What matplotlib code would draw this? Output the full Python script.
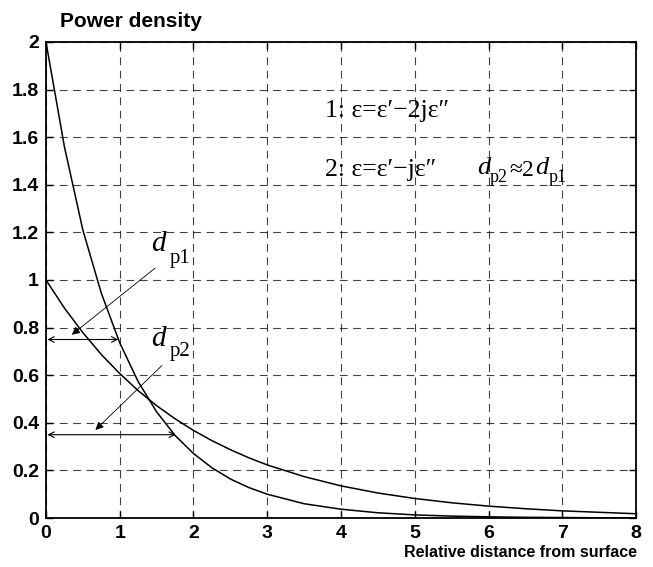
import matplotlib.pyplot as plt

# distances
dist = [0, 0.25, 0.5, 0.75, 1, 1.25, 1.5, 1.75, 2, 2.25, 2.5, 2.75, 3,
        3.5, 4, 4.5, 5, 5.5, 6, 6.5, 7, 7.5, 8]
# curve 1: eps = eps' - 2j eps''
power1 = [2.0, 1.56, 1.21, 0.945, 0.736, 0.573, 0.446, 0.347, 0.271, 0.211,
          0.164, 0.128, 0.100, 0.060, 0.037, 0.022, 0.013, 0.008, 0.005,
          0.003, 0.002, 0.001, 0.001]
# curve 2: eps = eps' - j eps''
power2 = [1.0, 0.882, 0.779, 0.687, 0.607, 0.535, 0.472, 0.417, 0.368, 0.325,
          0.287, 0.253, 0.223, 0.174, 0.135, 0.105, 0.082, 0.064, 0.050,
          0.039, 0.030, 0.024, 0.018]

xticks = [0, 1, 2, 3, 4, 5, 6, 7, 8]
yticks = [0, 0.2, 0.4, 0.6, 0.8, 1, 1.2, 1.4, 1.6, 1.8, 2]
ytick_labels = ["0", "0.2", "0.4", "0.6", "0.8", "1", "1.2", "1.4", "1.6", "1.8", "2"]

sans = "Liberation Sans"
serif = "Liberation Serif"

fig = plt.figure(figsize=(6.53, 5.67), dpi=100)
ax = fig.add_axes([0.0704, 0.0864, 0.9036, 0.8396])

ax.plot(dist, power1, color="black", lw=1.1)
ax.plot(dist, power2, color="black", lw=1.1)

ax.set_xlim(0, 8)
ax.set_ylim(0, 2)
ax.set_xticks(xticks)
ax.set_yticks(yticks)
ax.set_yticklabels(ytick_labels)
ax.tick_params(direction="in", top=True, right=True, length=5, width=1,
               labelsize=14, pad=5)
for lab in ax.get_xticklabels() + ax.get_yticklabels():
    lab.set_fontweight("bold")
    lab.set_family(sans)
ax.grid(True, color="black", linestyle=(0, (7, 5)), lw=0.8, alpha=0.75)
for s in ax.spines.values():
    s.set_linewidth(1.3)

fig.text(0.092, 0.962, "Power density", fontsize=15, fontweight="bold",
         family=sans, va="center")
fig.text(0.975, 0.025, "Relative distance from surface", fontsize=11.5,
         fontweight="bold", family=sans, ha="right", va="center")

# width arrows
arr = dict(arrowstyle="<->", color="black", lw=0.8, mutation_scale=10,
           shrinkA=0, shrinkB=0)
ax.annotate("", xy=(0.02, 0.75), xytext=(0.98, 0.75), arrowprops=arr)
ax.annotate("", xy=(0.02, 0.35), xytext=(1.76, 0.35), arrowprops=arr)

lead = dict(arrowstyle="-|>", color="black", lw=0.6, mutation_scale=12,
            shrinkA=0, shrinkB=0)
ax.annotate("", xy=(0.35, 0.77), xytext=(1.48, 1.05), arrowprops=lead)
ax.annotate("", xy=(0.67, 0.37), xytext=(1.57, 0.64), arrowprops=lead)

ax.text(1.42, 1.15, "d", fontsize=21, family=serif, style="italic", va="center")
ax.text(1.68, 1.09, "p1", fontsize=15, family=serif, va="center")
ax.text(1.42, 0.75, "d", fontsize=21, family=serif, style="italic", va="center")
ax.text(1.68, 0.70, "p2", fontsize=15, family=serif, va="center")

ax.text(3.78, 1.71, "1: ε=ε′−2jε″", fontsize=18.5, family=serif, va="center")
ax.text(3.78, 1.46, "2: ε=ε′−jε″", fontsize=18.5, family=serif, va="center")
ax.text(5.85, 1.47, "d", fontsize=19, family=serif, style="italic", va="center")
ax.text(6.02, 1.43, "p2", fontsize=13, family=serif, va="center")
ax.text(6.28, 1.46, "≈2", fontsize=17, family=serif, va="center")
ax.text(6.63, 1.47, "d", fontsize=19, family=serif, style="italic", va="center")
ax.text(6.81, 1.43, "p1", fontsize=13, family=serif, va="center")

fig.savefig("out.png", dpi=100)
